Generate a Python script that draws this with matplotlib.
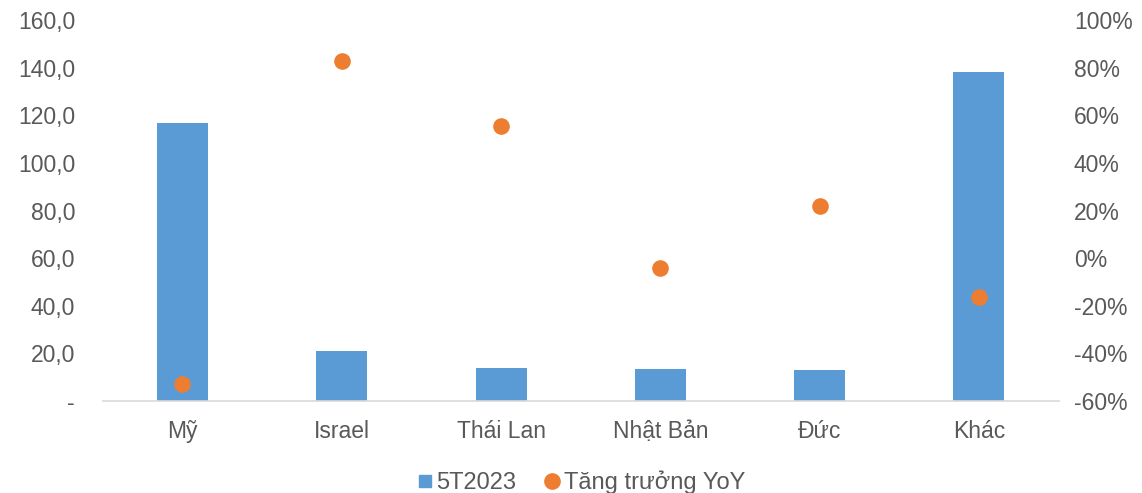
import matplotlib.pyplot as plt
from matplotlib.lines import Line2D
from matplotlib.ticker import FuncFormatter

plt.rcParams['font.family'] = ['Liberation Sans', 'DejaVu Sans']

countries = ["Mỹ", "Israel", "Thái Lan", "Nhật Bản", "Đức", "Khác"]
value_5t2023 = [116.7, 21.0, 13.9, 13.4, 13.0, 138.2]
yoy_growth = [-52.9, 82.8, 55.5, -4.1, 21.9, -16.3]

BAR_COLOR = "#5B9BD5"
DOT_COLOR = "#ED7D31"
TEXT_COLOR = "#595959"

fig = plt.figure(figsize=(11.42, 4.93), dpi=100)
ax = fig.add_axes([0.090, 0.1866, 0.837, 0.7724])
ax2 = ax.twinx()

x = range(len(countries))
ax.bar(x, value_5t2023, width=0.32, color=BAR_COLOR, zorder=2)
ax2.scatter(x, yoy_growth, s=120, color=DOT_COLOR, zorder=3)

ax.set_xlim(-0.5, len(countries) - 0.5)
ax.set_ylim(0, 160)
ax.set_yticks(range(0, 161, 20))
ax.yaxis.set_major_formatter(FuncFormatter(lambda v, p: "-" if v == 0 else f"{v:.1f}".replace(".", ",")))
ax2.set_ylim(-60, 100)
ax2.set_yticks(range(-60, 101, 20))
ax2.yaxis.set_major_formatter(FuncFormatter(lambda v, p: f"{v:.0f}%"))

ax.set_xticks(list(x))
ax.set_xticklabels(countries)

for a in (ax, ax2):
    for s in a.spines.values():
        s.set_visible(False)
    a.tick_params(length=0, labelsize=16.5, labelcolor=TEXT_COLOR)
ax.spines["bottom"].set_visible(True)
ax.spines["bottom"].set_color("#D9D9D9")
ax.spines["bottom"].set_linewidth(1.2)
ax.tick_params(axis="y", pad=20)
ax.tick_params(axis="x", pad=14)
ax2.tick_params(axis="y", pad=11)

handles = [
    Line2D([], [], marker="s", linestyle="none", color=BAR_COLOR, markersize=8),
    Line2D([], [], marker="o", linestyle="none", color=DOT_COLOR, markersize=11),
]
fig.legend(handles, ["5T2023", "Tăng trưởng YoY"], loc="center", bbox_to_anchor=(0.507, 0.022),
           ncol=2, frameon=False, fontsize=17, labelcolor=TEXT_COLOR,
           handletextpad=0.0, columnspacing=1.0, handlelength=1.0)

fig.savefig("out.png", dpi=100)
